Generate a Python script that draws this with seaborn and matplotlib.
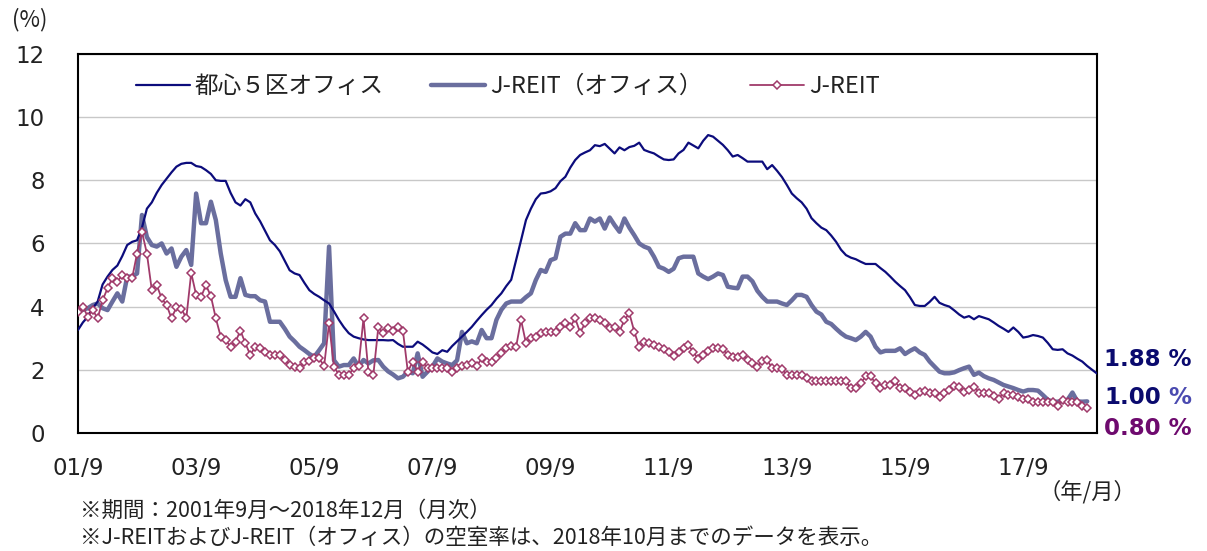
import numpy as np
import pandas as pd
import matplotlib
matplotlib.use("Agg")
import matplotlib.pyplot as plt
import seaborn as sns

# monthly vacancy rates (%), 2001/9 -> 2018/12
tokyo5 = [
    3.26, 3.50, 3.68, 3.95, 4.16, 4.70, 4.95, 5.16, 5.30, 5.60, 5.95, 6.05,
    6.10, 6.50, 7.10, 7.30, 7.60, 7.85, 8.05, 8.25, 8.43, 8.52, 8.55, 8.55,
    8.45, 8.42, 8.32, 8.20, 8.00, 7.98, 7.98, 7.60, 7.30, 7.20, 7.40, 7.30,
    6.95, 6.70, 6.40, 6.10, 5.95, 5.75, 5.45, 5.15, 5.05, 5.00, 4.75, 4.52,
    4.40, 4.31, 4.20, 4.10, 3.85, 3.58, 3.35, 3.16, 3.05, 3.00, 2.96, 2.94,
    2.94, 2.94, 2.94, 2.93, 2.94, 2.82, 2.73, 2.73, 2.73, 2.89, 2.80, 2.68,
    2.55, 2.50, 2.62, 2.57, 2.75, 2.90, 3.05, 3.20, 3.36, 3.55, 3.73, 3.90,
    4.05, 4.25, 4.42, 4.65, 4.85, 5.47, 6.10, 6.74, 7.10, 7.40, 7.58, 7.60,
    7.65, 7.75, 7.97, 8.11, 8.40, 8.64, 8.80, 8.88, 8.95, 9.11, 9.08, 9.15,
    9.00, 8.85, 9.04, 8.95, 9.05, 9.09, 9.19, 8.96, 8.90, 8.85, 8.75, 8.66,
    8.64, 8.66, 8.85, 8.96, 9.19, 9.10, 9.01, 9.25, 9.43, 9.38, 9.25, 9.12,
    8.95, 8.75, 8.80, 8.70, 8.59, 8.59, 8.59, 8.59, 8.35, 8.48, 8.30, 8.10,
    7.85, 7.58, 7.43, 7.30, 7.10, 6.80, 6.64, 6.50, 6.42, 6.25, 6.05, 5.80,
    5.63, 5.55, 5.50, 5.42, 5.35, 5.35, 5.35, 5.22, 5.10, 4.95, 4.79, 4.65,
    4.52, 4.30, 4.05, 4.02, 4.02, 4.15, 4.31, 4.12, 4.05, 4.00, 3.88, 3.75,
    3.65, 3.70, 3.60, 3.70, 3.65, 3.60, 3.50, 3.39, 3.30, 3.20, 3.34, 3.20,
    3.02, 3.05, 3.10, 3.07, 3.02, 2.85, 2.65, 2.63, 2.65, 2.52, 2.45, 2.35,
    2.26, 2.12, 2.00, 1.88,
]

# J-REIT series end in 2018/10
jreit_office = [
    3.89, 3.90, 3.95, 4.05, 4.10, 3.95, 3.89, 4.16, 4.42, 4.16, 4.95, 4.95,
    5.05, 6.90, 6.20, 5.95, 5.90, 6.00, 5.68, 5.84, 5.26, 5.58, 5.79, 5.32,
    7.58, 6.64, 6.64, 7.32, 6.74, 5.68, 4.84, 4.31, 4.31, 4.90, 4.37, 4.33,
    4.33, 4.20, 4.16, 3.52, 3.52, 3.52, 3.30, 3.05, 2.90, 2.73, 2.62, 2.50,
    2.41, 2.62, 2.84, 5.90, 2.30, 2.10, 2.15, 2.15, 2.36, 2.10, 2.31, 2.20,
    2.30, 2.31, 2.10, 1.95, 1.85, 1.73, 1.78, 1.94, 1.89, 2.52, 1.78, 1.94,
    2.10, 2.36, 2.26, 2.20, 2.15, 2.30, 3.20, 2.84, 2.90, 2.84, 3.26, 3.00,
    3.00, 3.58, 3.90, 4.10, 4.16, 4.16, 4.16, 4.30, 4.42, 4.84, 5.16, 5.10,
    5.47, 5.53, 6.21, 6.31, 6.31, 6.64, 6.42, 6.42, 6.79, 6.69, 6.79, 6.47,
    6.82, 6.58, 6.37, 6.79, 6.50, 6.26, 6.00, 5.90, 5.84, 5.58, 5.26, 5.20,
    5.10, 5.20, 5.53, 5.58, 5.58, 5.58, 5.05, 4.95, 4.87, 4.95, 5.05, 5.00,
    4.63, 4.60, 4.58, 4.95, 4.95, 4.80, 4.50, 4.31, 4.16, 4.16, 4.16, 4.10,
    4.05, 4.20, 4.37, 4.37, 4.31, 4.05, 3.84, 3.75, 3.52, 3.45, 3.30, 3.16,
    3.05, 3.00, 2.94, 3.05, 3.20, 3.05, 2.73, 2.55, 2.60, 2.60, 2.60, 2.68,
    2.50, 2.60, 2.68, 2.55, 2.47, 2.26, 2.10, 1.94, 1.89, 1.89, 1.92, 1.99,
    2.05, 2.10, 1.84, 1.91, 1.80, 1.73, 1.68, 1.60, 1.52, 1.47, 1.42, 1.36,
    1.31, 1.36, 1.36, 1.34, 1.20, 1.05, 0.99, 0.99, 1.00, 1.05, 1.28, 1.00,
    0.99, 1.00,
]

jreit_all = [
    3.84, 4.00, 3.68, 3.89, 3.63, 4.20, 4.58, 4.90, 4.79, 5.00, 4.90, 4.90,
    5.68, 6.37, 5.68, 4.52, 4.68, 4.26, 4.05, 3.63, 3.98, 3.94, 3.63, 5.07,
    4.37, 4.31, 4.68, 4.33, 3.63, 3.05, 2.94, 2.73, 2.89, 3.24, 2.84, 2.47,
    2.73, 2.68, 2.57, 2.47, 2.47, 2.47, 2.31, 2.15, 2.10, 2.05, 2.26, 2.29,
    2.36, 2.36, 2.12, 3.47, 2.10, 1.84, 1.84, 1.84, 2.05, 2.12, 3.63, 1.94,
    1.84, 3.34, 3.16, 3.31, 3.24, 3.34, 3.24, 1.94, 2.26, 1.94, 2.26, 2.05,
    2.05, 2.05, 2.05, 2.05, 1.94, 2.05, 2.12, 2.15, 2.20, 2.12, 2.36, 2.26,
    2.26, 2.36, 2.52, 2.68, 2.75, 2.73, 3.58, 2.84, 3.00, 3.05, 3.16, 3.21,
    3.21, 3.21, 3.36, 3.47, 3.36, 3.63, 3.18, 3.47, 3.63, 3.63, 3.58, 3.47,
    3.31, 3.36, 3.21, 3.58, 3.79, 3.21, 2.73, 2.89, 2.86, 2.78, 2.73, 2.65,
    2.57, 2.44, 2.57, 2.68, 2.78, 2.57, 2.33, 2.47, 2.60, 2.68, 2.68, 2.65,
    2.47, 2.42, 2.40, 2.47, 2.31, 2.20, 2.10, 2.29, 2.31, 2.05, 2.05, 2.02,
    1.84, 1.84, 1.84, 1.84, 1.73, 1.63, 1.63, 1.63, 1.63, 1.63, 1.63, 1.63,
    1.63, 1.42, 1.42, 1.58, 1.79, 1.79, 1.58, 1.42, 1.52, 1.52, 1.63, 1.42,
    1.42, 1.31, 1.20, 1.31, 1.34, 1.26, 1.26, 1.15, 1.28, 1.36, 1.49, 1.47,
    1.31, 1.36, 1.47, 1.28, 1.26, 1.26, 1.17, 1.07, 1.28, 1.20, 1.20, 1.15,
    1.07, 1.07, 0.99, 0.99, 0.99, 0.99, 0.99, 0.86, 1.05, 0.99, 0.99, 0.99,
    0.86, 0.80,
]

tick_labels = ["01/9", "03/9", "05/9", "07/9", "09/9", "11/9", "13/9", "15/9", "17/9"]
names = ["都心５区オフィス", "J-REIT（オフィス）", "J-REIT"]

NAVY = "#0c0c7c"
SLATE = "#6a6e9e"
MAG = "#a03a6a"
TXT = "#222222"

sns.set_theme(style="white")
plt.rcParams["font.family"] = ["Noto Sans CJK JP", "DejaVu Sans"]

df1 = pd.DataFrame({"m": np.arange(len(tokyo5)), "v": tokyo5})
df2 = pd.DataFrame({"m": np.arange(len(jreit_office)), "v": jreit_office})
df3 = pd.DataFrame({"m": np.arange(len(jreit_all)), "v": jreit_all})

fig = plt.figure(figsize=(12.07, 5.51), dpi=100)
ax = fig.add_axes([0.0646, 0.2142, 0.8443, 0.688])

sns.lineplot(data=df1, x="m", y="v", ax=ax, color=NAVY, linewidth=1.6, label=names[0], zorder=3)
sns.lineplot(data=df2, x="m", y="v", ax=ax, color=SLATE, linewidth=3.2, label=names[1], zorder=2)
sns.lineplot(data=df3, x="m", y="v", ax=ax, color=MAG, linewidth=1.3, marker="D",
             markersize=4, markerfacecolor="white", markeredgecolor=MAG,
             markeredgewidth=1.1, label=names[2], zorder=4)

ax.set_xlim(0, 207)
ax.set_ylim(0, 12)
ax.set_yticks(range(0, 13, 2))
ax.set_xticks(range(0, 193, 24))
ax.set_xticklabels(tick_labels)
ax.set_xlabel("")
ax.set_ylabel("")
ax.grid(axis="y", color="#c8c8c8", linewidth=1.0)
ax.set_axisbelow(True)
for s in ax.spines.values():
    s.set_color("black")
    s.set_linewidth(1.5)
ax.tick_params(axis="both", direction="in", length=5, width=1.3, colors="black",
               labelsize=16.5, labelcolor=TXT)
ax.tick_params(axis="y", pad=24)
ax.tick_params(axis="x", pad=17)
for lab in ax.get_xticklabels() + ax.get_yticklabels():
    lab.set_family("DejaVu Sans")

leg = ax.legend(loc="upper left", bbox_to_anchor=(0.036, 1.0), ncol=3, frameon=False,
                fontsize=17, handlelength=2.3, handletextpad=0.2, columnspacing=2.0)
for t in leg.get_texts():
    t.set_color(TXT)

# end-of-series labels
ytr = ax.get_yaxis_transform()
lab_kw = dict(transform=ytr, fontsize=16.5, fontweight="bold", family="DejaVu Sans",
              va="center", ha="left")
ax.text(1.007, 2.32, "1.88 %", color="#0a0a6e", **lab_kw)
t100 = ax.text(1.007, 1.12, "1.00", color="#0a0a6e", **lab_kw)
ax.annotate(" %", xy=(1, 0.5), xycoords=t100, va="center", ha="left", color="#4a4ab0",
            fontsize=16.5, fontweight="bold", family="DejaVu Sans")
ax.text(1.007, 0.15, "0.80 %", color="#6e0a6e", **lab_kw)

fig.text(0.010, 0.965, "(%)", fontsize=16, color=TXT, va="center")
fig.text(0.860, 0.107, "（年/月）", fontsize=16, color=TXT, va="center")
fig.text(0.066, 0.073, "※期間：2001年9月～2018年12月（月次）", fontsize=15.5, color=TXT, va="center")
fig.text(0.066, 0.024, "※J-REITおよびJ-REIT（オフィス）の空室率は、2018年10月までのデータを表示。",
         fontsize=15.5, color=TXT, va="center")

fig.savefig("out.png", dpi=100)
